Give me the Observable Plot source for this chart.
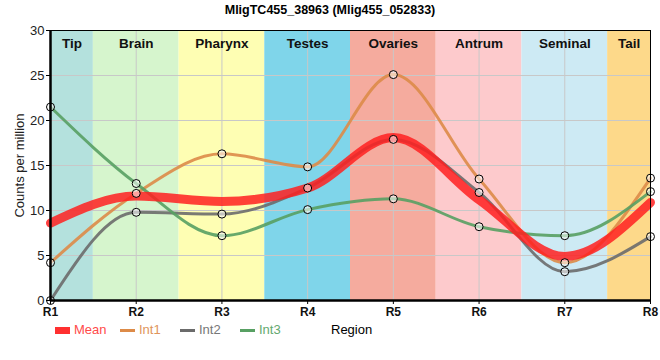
<!DOCTYPE html>
<html>
<head>
<meta charset="utf-8">
<script src="https://cdn.jsdelivr.net/npm/d3@7"></script>
<script src="https://cdn.jsdelivr.net/npm/@observablehq/plot@0.6"></script>
<style>
  body { margin: 0; background: #fff; font-family: "Liberation Sans", Arial, sans-serif; }
  #wrap { position: relative; width: 660px; height: 360px; overflow: hidden; }
  #title { position: absolute; top: 0; left: 0; width: 660px; text-align: center;
           font-weight: bold; font-size: 12.5px; line-height: 20px; color: #000; }
  #chart { position: absolute; top: 20px; left: 0; }
  #legend { position: absolute; top: 321px; left: 0; width: 660px; height: 18px; font-size: 13px; }
  .sw { position: absolute; height: 3px; width: 15px; top: 8px; }
  .lt { position: absolute; top: 1px; line-height: 16px; }
</style>
</head>
<body>
<div id="wrap">
  <div id="title">MligTC455_38963 (Mlig455_052833)</div>
  <div id="chart"></div>
  <div id="legend"></div>
</div>
<script>
// ---- data ----
const regionLabels = ["R1", "R2", "R3", "R4", "R5", "R6", "R7", "R8"];
const regionIndex = [1, 2, 3, 4, 5, 6, 7, 8];
const bandNames = ["Tip", "Brain", "Pharynx", "Testes", "Ovaries", "Antrum", "Seminal", "Tail"];
const bandColors = ["#b4e1dd", "#d6f5cd", "#fefeb3", "#7fd5ea", "#f5ab9e", "#fdcacc", "#cdeaf4", "#fdd98a"];
const seriesNames = ["Mean", "Int1", "Int2", "Int3"];
const seriesColors = ["#ff2020", "#dd8b48", "#6b6b6b", "#58a063"];
const meanVals = [8.6, 11.6, 11.0, 12.5, 18.1, 11.2, 4.9, 10.9];
const int1Vals = [4.2, 11.9, 16.3, 14.85, 25.1, 13.5, 4.2, 13.6];
const int2Vals = [0.0, 9.8, 9.6, 12.5, 17.9, 12.0, 3.2, 7.1];
const int3Vals = [21.5, 13.0, 7.2, 10.1, 11.3, 8.2, 7.2, 12.1];
const yTicks = [0, 5, 10, 15, 20, 25, 30];

// ---- tables ----
const bands = bandNames.map((name, i) => ({
  name, color: bandColors[i],
  x1: Math.max(1, regionIndex[i] - 0.5),
  x2: Math.min(8, regionIndex[i] + 0.5)
}));
const allVals = [meanVals, int1Vals, int2Vals, int3Vals];
const rows = [];
allVals.forEach((vals, s) => vals.forEach((v, i) => rows.push({series: seriesNames[s], x: regionIndex[i], y: v})));
const intRows = rows.filter(d => d.series !== "Mean");
const ser = name => rows.filter(d => d.series === name);

const chart = Plot.plot({
  width: 660,
  height: 300,
  marginLeft: 50,
  marginRight: 10,
  marginTop: 10,
  marginBottom: 20,
  style: { fontFamily: "'Liberation Sans', Arial, sans-serif", fontSize: "12px", background: "transparent", overflow: "visible" },
  x: { type: "linear", domain: [1, 8] },
  y: { domain: [0, 30] },
  color: { type: "identity" },
  marks: [
    Plot.rect(bands, { x1: "x1", x2: "x2", y1: 0, y2: 30, fill: "color" }),
    Plot.gridY({ ticks: [5, 10, 15, 20, 25], stroke: "#c8c8c8", strokeOpacity: 1 }),
    Plot.gridX({ ticks: [2, 3, 4, 5, 6, 7], stroke: "#c8c8c8", strokeOpacity: 1 }),
    Plot.text(bands, { x: d => (d.x1 + d.x2) / 2, text: "name", frameAnchor: "top", dy: 8, fontWeight: "bold", fontSize: 13.5, fill: "#111" }),
    Plot.line(ser("Int1"), { x: "x", y: "y", stroke: seriesColors[1], strokeWidth: 3, strokeOpacity: 0.9, curve: "monotone-x" }),
    Plot.line(ser("Int2"), { x: "x", y: "y", stroke: seriesColors[2], strokeWidth: 3, strokeOpacity: 0.9, curve: "monotone-x" }),
    Plot.line(ser("Int3"), { x: "x", y: "y", stroke: seriesColors[3], strokeWidth: 3, strokeOpacity: 0.9, curve: "monotone-x" }),
    Plot.line(ser("Mean"), { x: "x", y: "y", stroke: seriesColors[0], strokeWidth: 9, strokeOpacity: 0.85, curve: "monotone-x" }),
    Plot.dot(intRows, { x: "x", y: "y", r: 4, stroke: "#000", strokeWidth: 1, fill: "#fff", fillOpacity: 0.55 }),
    Plot.frame({ stroke: "#000", strokeWidth: 1 }),
    Plot.ruleY([0], { stroke: "#000", strokeWidth: 2.5 }),
    Plot.ruleX([1], { stroke: "#000", strokeWidth: 2.5 }),
    Plot.axisY({ ticks: yTicks, tickSize: 4, tickPadding: 2, fill: "#222",
                 label: "Counts per million", labelAnchor: "center", labelArrow: "none", labelOffset: 36, fontSize: 13 }),
    Plot.axisX({ ticks: regionIndex, tickFormat: d => regionLabels[d - 1], tickSize: 4, tickPadding: 3,
                 fontWeight: "bold", fontSize: 12, fill: "#111", label: null })
  ]
});
document.getElementById("chart").appendChild(chart);

// ---- legend ----
const legend = document.getElementById("legend");
const legendPos = [[55, 74], [120, 139], [180, 199], [240, 259]];
const legendTextColors = ["#ff4a4a", "#e0955c", "#777777", "#64a96f"];
seriesNames.forEach((name, i) => {
  const sw = document.createElement("div");
  sw.className = "sw";
  sw.style.left = legendPos[i][0] + "px";
  sw.style.background = seriesColors[i];
  if (i === 0) { sw.style.height = "7px"; sw.style.top = "6px"; sw.style.background = "#ff3030"; }
  legend.appendChild(sw);
  const t = document.createElement("div");
  t.className = "lt";
  t.style.left = legendPos[i][1] + "px";
  t.style.color = legendTextColors[i];
  t.textContent = name;
  legend.appendChild(t);
});
const reg = document.createElement("div");
reg.className = "lt";
reg.style.left = "331px";
reg.style.color = "#000";
reg.textContent = "Region";
legend.appendChild(reg);
</script>
</body>
</html>
